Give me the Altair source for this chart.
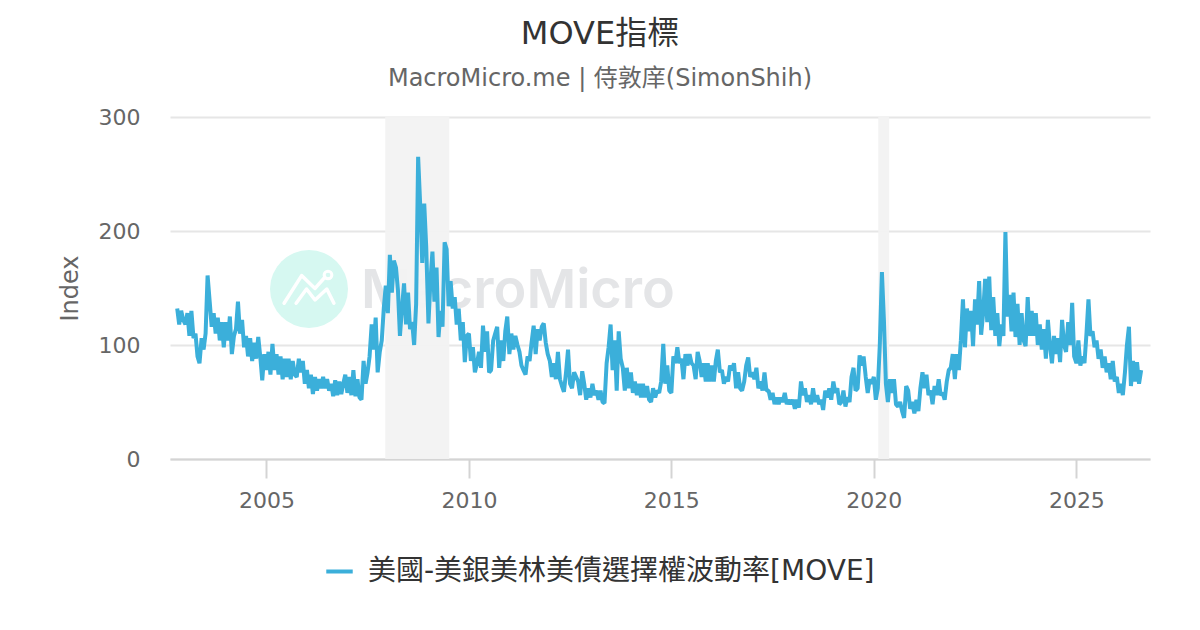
import altair as alt
import pandas as pd

FONT = "DejaVu Sans, Noto Sans CJK TC"
SERIES = "美國-美銀美林美債選擇權波動率[MOVE]"

# index values, about 20 readings per year
v2002 = [132, 118, 130, 122]
v2003 = [118, 128, 108, 130, 106, 110, 90, 84, 106, 96, 110, 161, 138, 116, 128, 110, 124, 104, 120, 98]
v2004 = [120, 104, 125, 92, 108, 114, 138, 110, 122, 98, 108, 90, 106, 86, 102, 88, 107, 90, 69, 92]
v2005 = [78, 94, 74, 101, 78, 92, 74, 90, 70, 88, 72, 88, 70, 86, 74, 72, 88, 76, 86, 66]
v2006 = [78, 62, 74, 57, 72, 60, 70, 62, 72, 62, 70, 60, 66, 55, 69, 56, 68, 57, 66, 74]
v2007 = [58, 72, 56, 78, 55, 70, 54, 52, 86, 66, 76, 90, 118, 96, 124, 76, 94, 104, 132, 152]
v2008 = [128, 179, 146, 174, 168, 148, 108, 132, 154, 118, 146, 114, 120, 100, 136, 265, 222, 172, 224, 186]
v2009 = [119, 156, 182, 138, 168, 107, 130, 116, 190, 184, 134, 156, 132, 142, 118, 132, 104, 120, 85, 108]
v2010 = [110, 86, 98, 76, 84, 94, 80, 117, 94, 112, 76, 78, 104, 110, 116, 80, 104, 86, 112, 125]
v2011 = [92, 110, 96, 108, 100, 94, 82, 78, 74, 90, 86, 102, 117, 92, 114, 104, 116, 119, 102, 92]
v2012 = [86, 72, 84, 70, 94, 70, 64, 59, 76, 96, 66, 62, 76, 72, 68, 56, 77, 66, 52, 62]
v2013 = [54, 66, 56, 60, 52, 60, 50, 49, 84, 98, 118, 78, 104, 60, 112, 88, 80, 60, 80, 62]
v2014 = [76, 58, 68, 56, 66, 54, 66, 54, 64, 52, 50, 62, 54, 60, 58, 68, 101, 66, 82, 60]
v2015 = [58, 90, 84, 98, 84, 88, 70, 92, 82, 92, 84, 82, 70, 94, 86, 72, 84, 68, 84, 68]
v2016 = [82, 68, 86, 96, 76, 78, 66, 72, 68, 82, 78, 84, 62, 76, 62, 60, 68, 82, 89, 72]
v2017 = [76, 70, 80, 62, 68, 60, 76, 60, 60, 52, 58, 48, 54, 48, 54, 50, 58, 48, 52, 48]
v2018 = [52, 44, 52, 45, 68, 56, 62, 50, 56, 48, 62, 50, 56, 48, 52, 43, 60, 54, 62, 52]
v2019 = [68, 58, 62, 48, 50, 60, 46, 54, 50, 72, 80, 60, 62, 91, 82, 90, 72, 58, 70, 66]
v2020 = [72, 52, 62, 100, 164, 122, 66, 50, 70, 58, 70, 48, 46, 50, 42, 36, 64, 60, 44, 50]
v2021 = [40, 52, 42, 62, 76, 62, 74, 56, 60, 48, 64, 56, 70, 56, 58, 52, 68, 78, 80, 92]
v2022 = [70, 92, 78, 104, 140, 98, 132, 112, 130, 99, 140, 118, 156, 109, 128, 158, 120, 160, 113, 142]
v2023 = [108, 128, 99, 118, 108, 199, 125, 144, 112, 146, 107, 136, 100, 128, 104, 99, 142, 108, 130, 108]
v2024 = [128, 100, 118, 96, 114, 88, 122, 100, 84, 108, 92, 106, 85, 122, 100, 94, 120, 100, 137, 90]
v2025 = [84, 104, 82, 90, 84, 110, 140, 108, 112, 98, 104, 88, 96, 80, 90, 76, 84, 70, 86, 68]
v2026 = [72, 58, 66, 56, 76, 100, 116, 64, 86, 68, 85, 66, 78]

recession_start = ["2007-12-08", "2020-02-10"]
recession_end = ["2009-07-08", "2020-05-18"]

y_ticks = [0, 100, 200, 300]

by_year = {
    2003: v2003, 2004: v2004, 2005: v2005, 2006: v2006, 2007: v2007, 2008: v2008,
    2009: v2009, 2010: v2010, 2011: v2011, 2012: v2012, 2013: v2013, 2014: v2014,
    2015: v2015, 2016: v2016, 2017: v2017, 2018: v2018, 2019: v2019, 2020: v2020,
    2021: v2021, 2022: v2022, 2023: v2023, 2024: v2024, 2025: v2025, 2026: v2026,
}

dates = [pd.Timestamp("2002-10-19") + pd.Timedelta(days=18.26 * i) for i in range(len(v2002))]
values = list(v2002)
for yr, vals in by_year.items():
    dates += [pd.Timestamp(year=yr, month=1, day=1) + pd.Timedelta(days=18.26 * i) for i in range(len(vals))]
    values += vals

move = pd.DataFrame({
    "date": [d.strftime("%Y-%m-%d") for d in dates],
    "value": values,
    "series": SERIES,
})
recessions = pd.DataFrame({"start": recession_start, "end": recession_end})

x_scale = alt.Scale(domain=["2002-08-15", "2026-10-27"])
y_scale = alt.Scale(domain=[0, 300], nice=False)

logo_circle = (
    alt.Chart(pd.DataFrame({"a": [0]}))
    .mark_circle(color="#d6f8f1", opacity=1, size=6080)
    .encode(x=alt.value(139), y=alt.value(172))
)
logo_path = (
    "M-0.91 0.52 L-0.27 -0.49 L0.22 -0.02 L0.58 -0.43 "
    "M-0.47 0.52 L-0.09 0 L0.22 0.4 L0.65 0 L0.91 0.52"
)
logo_lines = (
    alt.Chart(pd.DataFrame({"a": [0]}))
    .mark_point(shape=logo_path, stroke="white", strokeWidth=3.5, filled=False, size=3000, opacity=1,
                strokeCap="round", strokeJoin="round")
    .encode(x=alt.value(139), y=alt.value(172))
)
logo_ring = (
    alt.Chart(pd.DataFrame({"a": [0]}))
    .mark_circle(stroke="white", strokeWidth=3, fillOpacity=0, size=60, opacity=1)
    .encode(x=alt.value(158), y=alt.value(158))
)
watermark = (
    alt.Chart(pd.DataFrame({"label": ["MacroMicro"]}))
    .mark_text(font="Inter", fontSize=54, fontWeight=600, color="#e4e5e7", align="left", baseline="alphabetic")
    .encode(text="label:N", x=alt.value(191), y=alt.value(191))
)

bands = (
    alt.Chart(recessions)
    .mark_rect(color="#f2f2f2", opacity=0.95)
    .encode(
        x=alt.X("start:T", scale=x_scale),
        x2="end:T",
        y=alt.value(0),
        y2=alt.value(342),
    )
)

line = (
    alt.Chart(move)
    .mark_line(strokeWidth=4, strokeJoin="bevel")
    .encode(
        x=alt.X(
            "date:T",
            scale=x_scale,
            axis=alt.Axis(
                title=None,
                format="%Y",
                tickCount=alt.TimeIntervalStep(interval="year", step=5),
                grid=False,
                domainColor="#d4d4d4",
                domainWidth=2,
                tickColor="#d4d4d4",
                tickWidth=2,
                tickSize=19,
                labelFontSize=22,
                labelColor="#666666",
                labelPadding=12,
                labelFont=FONT,
            ),
        ),
        y=alt.Y(
            "value:Q",
            scale=y_scale,
            axis=alt.Axis(
                title="Index",
                values=y_ticks,
                grid=True,
                gridColor="#e6e6e6",
                gridWidth=2,
                domain=False,
                ticks=False,
                labelFontSize=22,
                labelColor="#666666",
                labelPadding=30,
                labelFont=FONT,
                titleFont=FONT,
                titleFontSize=24,
                titleFontWeight="normal",
                titleColor="#666666",
                titlePadding=16,
            ),
        ),
        color=alt.Color(
            "series:N",
            scale=alt.Scale(domain=[SERIES], range=["#3bafda"]),
            legend=alt.Legend(
                title=None,
                orient="none",
                legendX=154,
                legendY=439,
                symbolType="stroke",
                symbolStrokeWidth=4,
                symbolSize=700,
                labelFontSize=28,
                labelOffset=13,
                labelColor="#333333",
                labelFont=FONT,
                labelLimit=700,
            ),
        ),
    )
)

chart = (
    alt.layer(logo_circle, logo_lines, logo_ring, watermark, bands, line)
    .properties(
        width=980,
        height=342,
        padding={"left": 162, "top": 109, "right": 42, "bottom": 163},
        autosize=alt.AutoSizeParams(type="none"),
        title=alt.TitleParams(
            text="MOVE指標",
            subtitle="MacroMicro.me | 侍敦庠(SimonShih)",
            anchor="middle",
            frame="group",
            dx=-60,
            offset=14,
            font=FONT,
            fontSize=32,
            fontWeight="normal",
            color="#333333",
            subtitleFont=FONT,
            subtitleFontSize=24,
            subtitleColor="#666666",
            subtitlePadding=16,
        ),
    )
    .configure_view(stroke=None)
)

chart.save("out.html", embed_options={"renderer": "svg", "actions": False})
